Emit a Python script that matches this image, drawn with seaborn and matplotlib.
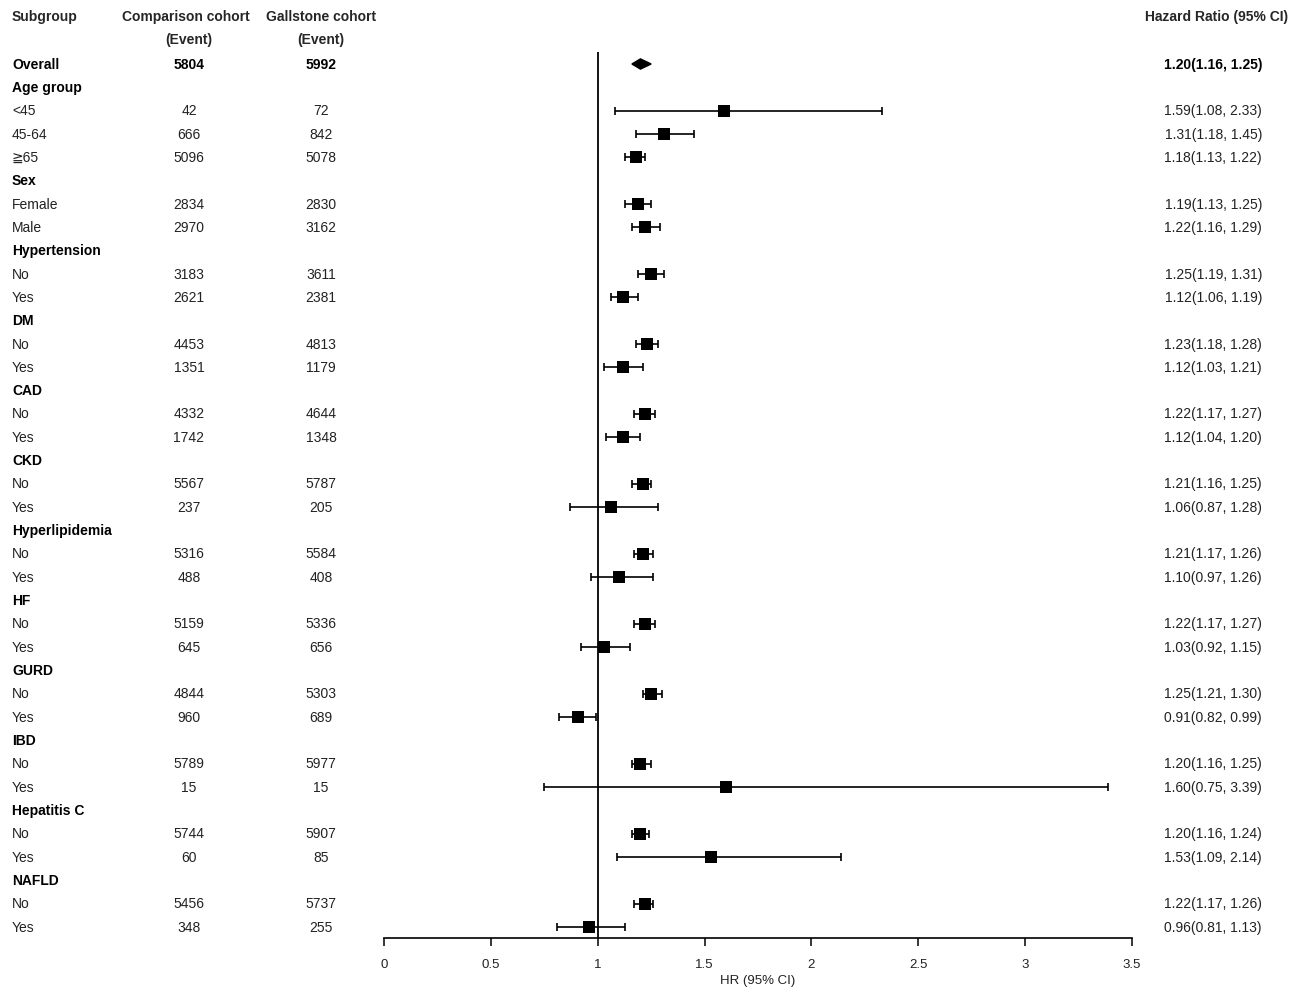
import numpy as np
import pandas as pd
import matplotlib
matplotlib.use('Agg')
import matplotlib.pyplot as plt
import matplotlib.transforms as mtransforms
from matplotlib.patches import Polygon
import seaborn as sns

sns.set_style('white')
plt.rcParams['font.family'] = ['Liberation Sans', 'DejaVu Sans']

# rows of the table, top to bottom
labels = ['Overall', 'Age group', '<45', '45-64', '\u226765',
          'Sex', 'Female', 'Male',
          'Hypertension', 'No', 'Yes',
          'DM', 'No', 'Yes',
          'CAD', 'No', 'Yes',
          'CKD', 'No', 'Yes',
          'Hyperlipidemia', 'No', 'Yes',
          'HF', 'No', 'Yes',
          'GURD', 'No', 'Yes',
          'IBD', 'No', 'Yes',
          'Hepatitis C', 'No', 'Yes',
          'NAFLD', 'No', 'Yes']
is_header = [True, True, False, False, False,
             True, False, False,
             True, False, False,
             True, False, False,
             True, False, False,
             True, False, False,
             True, False, False,
             True, False, False,
             True, False, False,
             True, False, False,
             True, False, False,
             True, False, False]
comparison = [5804, None, 42, 666, 5096,
              None, 2834, 2970,
              None, 3183, 2621,
              None, 4453, 1351,
              None, 4332, 1742,
              None, 5567, 237,
              None, 5316, 488,
              None, 5159, 645,
              None, 4844, 960,
              None, 5789, 15,
              None, 5744, 60,
              None, 5456, 348]
gallstone = [5992, None, 72, 842, 5078,
             None, 2830, 3162,
             None, 3611, 2381,
             None, 4813, 1179,
             None, 4644, 1348,
             None, 5787, 205,
             None, 5584, 408,
             None, 5336, 656,
             None, 5303, 689,
             None, 5977, 15,
             None, 5907, 85,
             None, 5737, 255]
hr = [1.20, None, 1.59, 1.31, 1.18,
      None, 1.19, 1.22,
      None, 1.25, 1.12,
      None, 1.23, 1.12,
      None, 1.22, 1.12,
      None, 1.21, 1.06,
      None, 1.21, 1.10,
      None, 1.22, 1.03,
      None, 1.25, 0.91,
      None, 1.20, 1.60,
      None, 1.20, 1.53,
      None, 1.22, 0.96]
lo = [1.16, None, 1.08, 1.18, 1.13,
      None, 1.13, 1.16,
      None, 1.19, 1.06,
      None, 1.18, 1.03,
      None, 1.17, 1.04,
      None, 1.16, 0.87,
      None, 1.17, 0.97,
      None, 1.17, 0.92,
      None, 1.21, 0.82,
      None, 1.16, 0.75,
      None, 1.16, 1.09,
      None, 1.17, 0.81]
hi = [1.25, None, 2.33, 1.45, 1.22,
      None, 1.25, 1.29,
      None, 1.31, 1.19,
      None, 1.28, 1.21,
      None, 1.27, 1.20,
      None, 1.25, 1.28,
      None, 1.26, 1.26,
      None, 1.27, 1.15,
      None, 1.30, 0.99,
      None, 1.25, 3.39,
      None, 1.24, 2.14,
      None, 1.26, 1.13]
x_ticks = [0, 0.5, 1, 1.5, 2, 2.5, 3, 3.5]
x_ticklabels = ['0', '0.5', '1', '1.5', '2', '2.5', '3', '3.5']

df = pd.DataFrame({'label': labels, 'header': is_header, 'comp': comparison,
                   'gall': gallstone, 'hr': hr, 'lo': lo, 'hi': hi})
df['row'] = np.arange(len(df))

W, H = 1300, 998
fig = plt.figure(figsize=(W / 100, H / 100), dpi=100)

# axes spans the forest area; rows are 23.32 px apart, first row at 64 px
row_h = 23.32
top_px, bot_px = 0, 938
ax = fig.add_axes([384 / W, 1 - bot_px / H, (1132 - 384) / W, (bot_px - top_px) / H])
ax.set_xlim(0, 3.5)
ax.set_ylim((bot_px - 64) / row_h, (top_px - 64) / row_h)

sub = df[(df['row'] > 0) & df['hr'].notna()].copy()
ax.errorbar(sub['hr'], sub['row'],
            xerr=[sub['hr'] - sub['lo'], sub['hi'] - sub['hr']],
            fmt='none', ecolor='black', elinewidth=1.2, capsize=3, capthick=1.2, zorder=2)
sns.scatterplot(data=sub, x='hr', y='row', marker='s', s=72, color='black',
                edgecolor='black', linewidth=0, ax=ax, zorder=3, legend=False)

# overall diamond
ov = df.iloc[0]
ax.add_patch(Polygon([(ov['lo'], 0), (ov['hr'], -0.22), (ov['hi'], 0), (ov['hr'], 0.22)],
                     closed=True, facecolor='black', edgecolor='black', zorder=3))

# reference line at HR = 1
ax.vlines(1, (52 - 64) / row_h, ax.get_ylim()[0], color='black', linewidth=1.3, zorder=1)

for s in ['top', 'right', 'left']:
    ax.spines[s].set_visible(False)
ax.spines['bottom'].set_linewidth(1.2)
ax.spines['bottom'].set_color('black')
ax.set_yticks([])
ax.set_xticks(x_ticks)
ax.set_xticklabels(x_ticklabels, fontsize=9.5, color='#222222')
ax.tick_params(axis='x', direction='out', length=6, width=1.1, color='black', pad=9,
               bottom=True)
ax.set_xlabel('HR (95% CI)', fontsize=9.5, color='#222222', labelpad=3)
ax.set_ylabel('')
ax.grid(False)

trans = mtransforms.blended_transform_factory(fig.transFigure, ax.transData)
fs = 10

# column headers
hy1 = (17 - 64) / row_h
hy2 = (40 - 64) / row_h
ax.text(12 / W, hy1, 'Subgroup', transform=trans, ha='left', va='center',
        fontsize=fs, fontweight='bold')
ax.text(186 / W, hy1, 'Comparison cohort', transform=trans, ha='center', va='center',
        fontsize=fs, fontweight='bold')
ax.text(189 / W, hy2, '(Event)', transform=trans, ha='center', va='center',
        fontsize=fs, fontweight='bold')
ax.text(321 / W, hy1, 'Gallstone cohort', transform=trans, ha='center', va='center',
        fontsize=fs, fontweight='bold')
ax.text(321 / W, hy2, '(Event)', transform=trans, ha='center', va='center',
        fontsize=fs, fontweight='bold')
ax.text(1288 / W, hy1, 'Hazard Ratio (95% CI)', transform=trans, ha='right', va='center',
        fontsize=fs, fontweight='bold')

for _, r in df.iterrows():
    bold = r['row'] == 0 or r['header']
    weight = 'bold' if bold else 'normal'
    col = 'black' if bold else '#222222'
    ax.text(12 / W, r['row'] + 0.03, r['label'], transform=trans, ha='left', va='center',
            fontsize=fs, fontweight=weight, color=col)
    if pd.notna(r['comp']):
        ax.text(189 / W, r['row'] + 0.03, f"{int(r['comp'])}", transform=trans, ha='center',
                va='center', fontsize=fs, fontweight=weight, color=col)
        ax.text(321 / W, r['row'] + 0.03, f"{int(r['gall'])}", transform=trans, ha='center',
                va='center', fontsize=fs, fontweight=weight, color=col)
    if pd.notna(r['hr']):
        txt = f"{r['hr']:.2f}({r['lo']:.2f}, {r['hi']:.2f})"
        ax.text(1262 / W, r['row'] + 0.03, txt, transform=trans, ha='right', va='center',
                fontsize=fs, fontweight=weight, color=col)

fig.savefig('out.png', dpi=100)
